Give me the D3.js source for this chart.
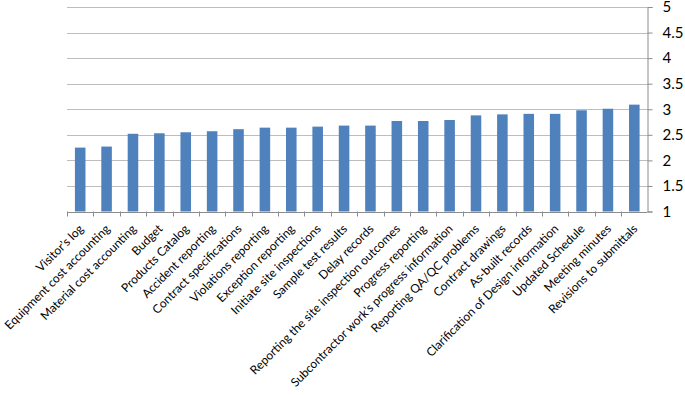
<!DOCTYPE html>
<html>
<head>
<meta charset="utf-8">
<script src="https://cdn.jsdelivr.net/npm/d3@7"></script>
<style>
  body { margin: 0; background: #fff; }
  text { font-family: Lato, "Open Sans", sans-serif; fill: #000; }
</style>
</head>
<body>
<div id="chart"></div>
<script>
// categories and mean scores
var categories = [
  "Visitor’s log", "Equipment cost accounting", "Material cost accounting", "Budget",
  "Products Catalog", "Accident reporting", "Contract specifications", "Violations reporting",
  "Exception reporting", "Initiate site inspections", "Sample test results", "Delay records",
  "Reporting the site inspection outcomes", "Progress reporting",
  "Subcontractor work’s progress information", "Reporting QA/QC problems", "Contract drawings",
  "As-built records", "Clarification of Design information", "Updated Schedule",
  "Meeting minutes", "Revisions to submittals"
];
var values = [2.25, 2.27, 2.52, 2.53, 2.55, 2.57, 2.61, 2.64, 2.64, 2.66, 2.68, 2.68,
  2.77, 2.77, 2.79, 2.88, 2.90, 2.91, 2.91, 2.98, 3.01, 3.09];
var yTicks = [1, 1.5, 2, 2.5, 3, 3.5, 4, 4.5, 5];

var width = 685, height = 395;
var plotL = 67, plotR = 647.5, plotT = 7, plotB = 211.5;

var svg = d3.select("#chart").append("svg")
  .attr("width", width)
  .attr("height", height);

var x = d3.scaleBand().domain(categories).range([plotL, plotR]).paddingInner(0.6).paddingOuter(0.3);
var xb = d3.scaleBand().domain(categories).range([plotL, plotR]); // for tick positions
var y = d3.scaleLinear().domain([1, 5]).range([plotB, plotT]);

// gridlines
svg.append("g").selectAll("line")
  .data(yTicks.slice(1))
  .enter().append("line")
  .attr("x1", plotL).attr("x2", plotR)
  .attr("y1", function (d) { return Math.round(y(d)) + 0.5; })
  .attr("y2", function (d) { return Math.round(y(d)) + 0.5; })
  .attr("stroke", "#bdbdbd").attr("stroke-width", 1);

// bars
svg.append("g").selectAll("rect")
  .data(values)
  .enter().append("rect")
  .attr("x", function (d, i) { return x(categories[i]); })
  .attr("y", function (d) { return y(d); })
  .attr("width", x.bandwidth())
  .attr("height", function (d) { return y(1) - y(d); })
  .attr("fill", "#4f81bd");

// right y axis
var yAxis = d3.axisRight(y).tickValues(yTicks).tickSize(5).tickPadding(10)
  .tickFormat(function (d) { return String(d); });
var gy = svg.append("g").attr("transform", "translate(" + plotR + ",0)").call(yAxis);
gy.select(".domain").attr("stroke", "#8c8c8c");
gy.selectAll(".tick line").attr("stroke", "#8c8c8c");
gy.selectAll("text").style("font-size", "15px").style("font-family", "Lato, sans-serif");

// x axis line with ticks at band boundaries
var gx = svg.append("g");
gx.append("line")
  .attr("x1", plotL).attr("x2", plotR)
  .attr("y1", Math.round(plotB) + 0.5).attr("y2", Math.round(plotB) + 0.5)
  .attr("stroke", "#8c8c8c");
gx.selectAll("line.tk")
  .data(categories)
  .enter().append("line").attr("class", "tk")
  .attr("x1", function (d) { return Math.round(xb(d)) + 0.5; })
  .attr("x2", function (d) { return Math.round(xb(d)) + 0.5; })
  .attr("y1", plotB).attr("y2", plotB + 5)
  .attr("stroke", "#8c8c8c");

// category labels rotated -45
svg.append("g").selectAll("text")
  .data(categories)
  .enter().append("text")
  .attr("transform", function (d) {
    var cx = xb(d) + xb.bandwidth() / 2 + 4;
    return "translate(" + cx + "," + (plotB + 18) + ") rotate(-45)";
  })
  .attr("text-anchor", "end")
  .style("font-size", "12px")
  .text(function (d) { return d; });
</script>
</body>
</html>
